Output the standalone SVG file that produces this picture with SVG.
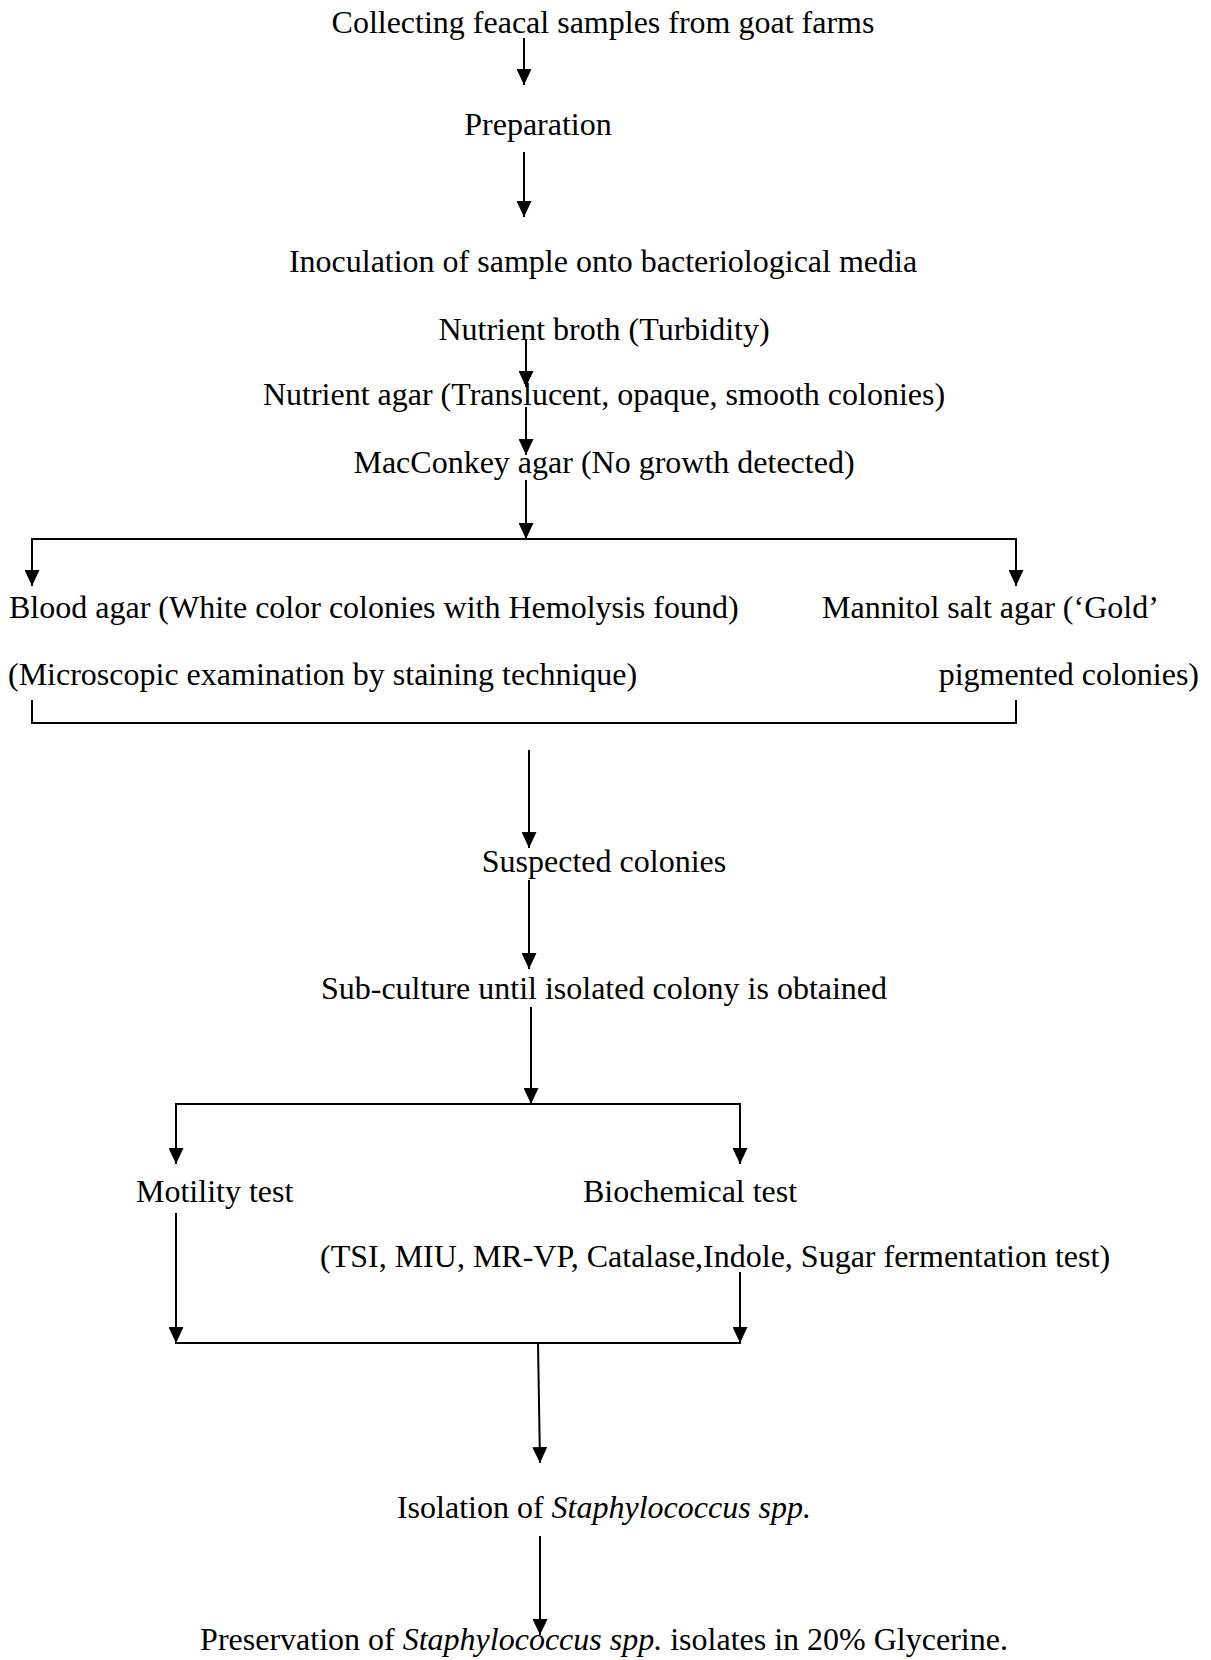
<svg xmlns="http://www.w3.org/2000/svg" width="1211" height="1660" viewBox="0 0 1211 1660">
<style>
text{font-family:"Liberation Serif","Times New Roman",serif;font-size:32px;fill:#000}
.c{text-anchor:middle}
.e{text-anchor:end}
.ln{stroke:#000;stroke-width:2;fill:none}
</style>
<defs>
<marker id="ah" markerUnits="userSpaceOnUse" viewBox="0 0 16 15" markerWidth="16" markerHeight="15" refX="16" refY="7.5" orient="auto">
<path d="M0,0 L16,7.5 L0,15 z" fill="#000"/>
</marker>
</defs>
<rect width="1211" height="1660" fill="#fff"/>
<g id="connectors">
<line class="ln" x1="524" y1="38" x2="524" y2="85" marker-end="url(#ah)"/>
<line class="ln" x1="524" y1="152" x2="524" y2="217" marker-end="url(#ah)"/>
<line class="ln" x1="526" y1="340" x2="526" y2="387" marker-end="url(#ah)"/>
<line class="ln" x1="526" y1="407" x2="526" y2="455" marker-end="url(#ah)"/>
<line class="ln" x1="526" y1="480" x2="526" y2="539" marker-end="url(#ah)"/>
<line class="ln" x1="31" y1="539" x2="1017" y2="539"/>
<line class="ln" x1="32" y1="539" x2="32" y2="586" marker-end="url(#ah)"/>
<line class="ln" x1="1016" y1="539" x2="1016" y2="586" marker-end="url(#ah)"/>
<polyline class="ln" points="32,700 32,723 1016,723 1016,700"/>
<line class="ln" x1="529" y1="750" x2="529" y2="848" marker-end="url(#ah)"/>
<line class="ln" x1="529" y1="880" x2="529" y2="969" marker-end="url(#ah)"/>
<line class="ln" x1="531" y1="1007" x2="531" y2="1104" marker-end="url(#ah)"/>
<line class="ln" x1="175" y1="1104" x2="741" y2="1104"/>
<line class="ln" x1="176" y1="1104" x2="176" y2="1164" marker-end="url(#ah)"/>
<line class="ln" x1="740" y1="1104" x2="740" y2="1164" marker-end="url(#ah)"/>
<line class="ln" x1="176" y1="1213" x2="176" y2="1343" marker-end="url(#ah)"/>
<line class="ln" x1="740" y1="1272" x2="740" y2="1343" marker-end="url(#ah)"/>
<line class="ln" x1="175" y1="1343" x2="741" y2="1343"/>
<line class="ln" x1="538" y1="1343" x2="540" y2="1463" marker-end="url(#ah)"/>
<line class="ln" x1="540" y1="1536" x2="540" y2="1635" marker-end="url(#ah)"/>
</g>
<g id="n1"><text class="c" x="603" y="33">Collecting feacal samples from goat farms</text></g>
<g id="n2"><text class="c" x="538" y="135">Preparation</text></g>
<g id="n3"><text class="c" x="603" y="272">Inoculation of sample onto bacteriological media</text></g>
<g id="n4"><text class="c" x="604" y="340">Nutrient broth (Turbidity)</text></g>
<g id="n5"><text class="c" x="604" y="405">Nutrient agar (Translucent, opaque, smooth colonies)</text></g>
<g id="n6"><text class="c" x="604" y="473">MacConkey agar (No growth detected)</text></g>
<g id="n7"><text x="9" y="618">Blood agar (White color colonies with Hemolysis found)</text>
<text x="8" y="685">(Microscopic examination by staining technique)</text></g>
<g id="n8"><text x="822" y="618">Mannitol salt agar (‘Gold’</text>
<text class="e" x="1199" y="685">pigmented colonies)</text></g>
<g id="n9"><text class="c" x="604" y="872">Suspected colonies</text></g>
<g id="n10"><text class="c" x="604" y="999">Sub-culture until isolated colony is obtained</text></g>
<g id="n11"><text x="136" y="1202">Motility test</text></g>
<g id="n12"><text x="583" y="1202">Biochemical test</text>
<text x="320" y="1267">(TSI, MIU, MR-VP, Catalase,Indole, Sugar fermentation test)</text></g>
<g id="n13"><text class="c" x="604" y="1518">Isolation of <tspan font-style="italic">Staphylococcus spp.</tspan></text></g>
<g id="n14"><text class="c" x="604" y="1650">Preservation of <tspan font-style="italic">Staphylococcus spp.</tspan> isolates in 20% Glycerine.</text></g>
</svg>
